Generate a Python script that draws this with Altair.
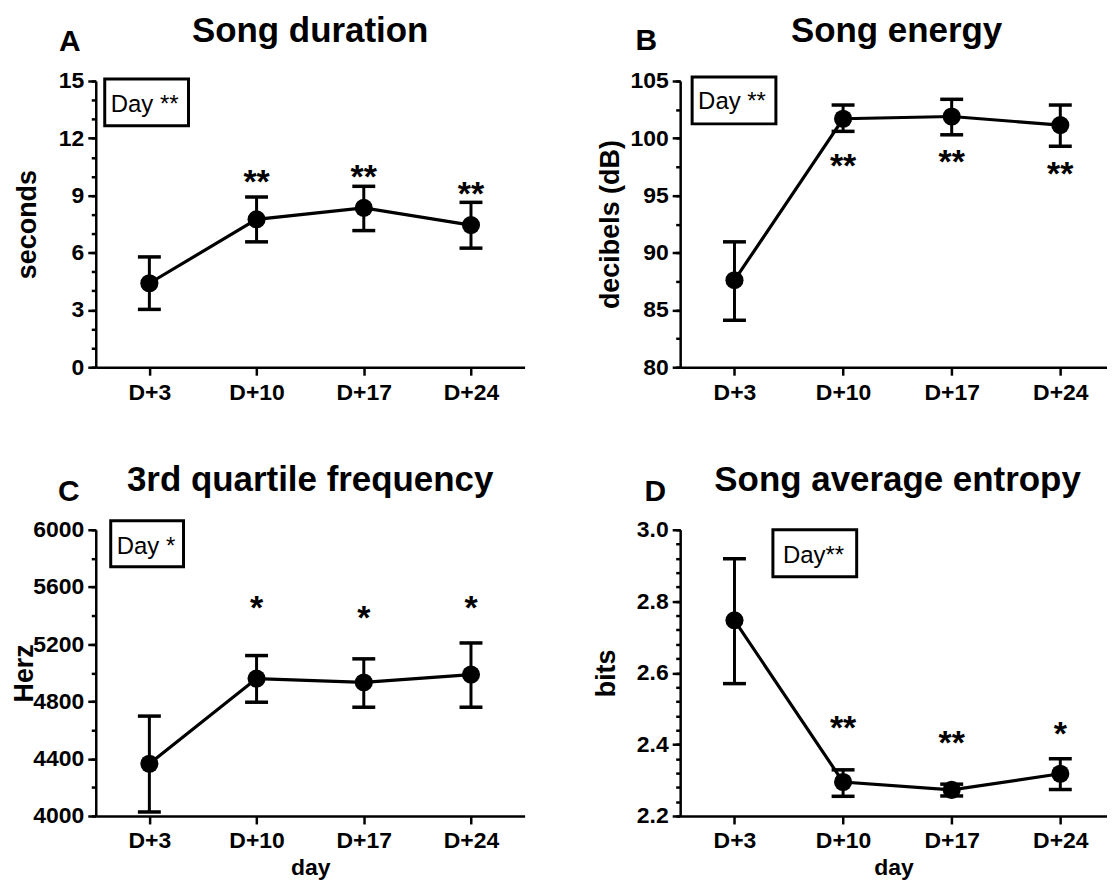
import altair as alt
import pandas as pd

FONT = "Liberation Sans"

days = ["D+3", "D+10", "D+17", "D+24"]

# Panel A: Song duration (seconds)
a_mean = [4.40, 7.75, 8.35, 7.45]
a_low = [3.03, 6.57, 7.16, 6.24]
a_high = [5.78, 8.92, 9.48, 8.64]
a_stars = ["", "**", "**", "**"]
a_star_y = [None, 10.1, 10.4, 9.5]

# Panel B: Song energy (dB)
b_mean = [87.6, 101.7, 101.9, 101.15]
b_low = [84.1, 100.6, 100.3, 99.3]
b_high = [90.95, 102.9, 103.4, 102.9]
b_stars = ["", "**", "**", "**"]
b_star_y = [None, 98.3, 98.6, 97.6]

# Panel C: 3rd quartile frequency (Herz)
c_mean = [4365, 4960, 4933, 4988]
c_low = [4028, 4795, 4760, 4760]
c_high = [4698, 5121, 5098, 5209]
c_stars = ["", "*", "*", "*"]
c_star_y = [None, 5512, 5442, 5512]

# Panel D: Song average entropy (bits)
d_mean = [2.747, 2.295, 2.273, 2.318]
d_low = [2.570, 2.255, 2.256, 2.274]
d_high = [2.919, 2.329, 2.289, 2.360]
d_stars = ["", "**", "**", "*"]
d_star_y = [None, 2.468, 2.425, 2.452]

# Axis ticks
a_major = [0, 3, 6, 9, 12, 15]
a_minor = list(range(0, 16))
b_major = [80, 85, 90, 95, 100, 105]
b_minor = [80 + 2.5 * i for i in range(11)]
c_major = [4000, 4400, 4800, 5200, 5600, 6000]
c_minor = list(range(4000, 6001, 200))
d_major = [2.2, 2.4, 2.6, 2.8, 3.0]
d_minor = [round(2.2 + 0.04 * i, 2) for i in range(21)]

H = 287


def make_panel(mean, low, high, stars, star_y, ydom, major, minor, yfmt,
               ytitle, ytitle_x, title, title_x, letter, letter_x, letter_y,
               box_text, box, text_x, text_y, width, xmax, xtitle):
    n = len(days)
    df = pd.DataFrame({"idx": list(range(n)), "mean": mean, "lo": low, "hi": high})
    sdf = pd.DataFrame({"idx": list(range(n)), "star": stars, "sy": star_y}).dropna()
    one = pd.DataFrame({"t": [0]})

    label_expr = "[" + ", ".join(f"'{d}'" for d in days) + "][datum.value]"
    xkw = dict(values=list(range(n)), labelExpr=label_expr, labelPadding=6, tickSize=8)
    if xtitle:
        xax = alt.Axis(title=xtitle, titleY=59, titleBaseline="alphabetic",
                       titleFontSize=23, **xkw)
    else:
        xax = alt.Axis(title=None, **xkw)
    xsc = alt.Scale(domain=[-0.5, xmax], nice=False, zero=False)
    X = alt.X("idx:Q", scale=xsc, axis=xax)

    ysc = alt.Scale(domain=ydom, nice=False, zero=False)
    ymaj = alt.Axis(values=major, format=yfmt, title=ytitle, titleX=ytitle_x,
                    titleY=H / 2, titleAngle=270, titleAlign="center",
                    titleBaseline="middle", tickSize=8, orient="left", labelPadding=4)
    ymin = alt.Axis(values=minor, labels=False, domain=False, tickSize=4.5,
                    title=None, orient="left")

    rules = alt.Chart(df).mark_rule(color="black", strokeWidth=3).encode(
        x=X, y=alt.Y("lo:Q", scale=ysc, axis=None), y2="hi:Q")
    cap_lo = alt.Chart(df).mark_tick(color="black", orient="horizontal", size=23,
                                     thickness=3.5, opacity=1).encode(
        x=X, y=alt.Y("lo:Q", scale=ysc, axis=None))
    cap_hi = alt.Chart(df).mark_tick(color="black", orient="horizontal", size=23,
                                     thickness=3.5, opacity=1).encode(
        x=X, y=alt.Y("hi:Q", scale=ysc, axis=None))
    line = alt.Chart(df).mark_line(color="black", strokeWidth=3.2).encode(
        x=X, y=alt.Y("mean:Q", scale=ysc, axis=ymaj))
    pts = alt.Chart(df).mark_circle(color="black", size=330, opacity=1).encode(
        x=X, y=alt.Y("mean:Q", scale=ysc, axis=ymin))
    st = alt.Chart(sdf).mark_text(font=FONT, fontSize=34, fontWeight="bold", dy=19,
                                  baseline="alphabetic", align="center",
                                  color="black").encode(
        x=X, y=alt.Y("sy:Q", scale=ysc, axis=None), text="star:N")

    boxl = alt.Chart(one).mark_rect(fill="white", stroke="black", strokeWidth=3).encode(
        x=alt.value(box[0]), x2=alt.value(box[1]), y=alt.value(box[2]), y2=alt.value(box[3]))
    boxt = alt.Chart(one).mark_text(text=box_text, font=FONT, fontSize=24, align="left",
                                    baseline="alphabetic", color="black").encode(
        x=alt.value(text_x), y=alt.value(text_y))
    ttl = alt.Chart(one).mark_text(text=title, font=FONT, fontSize=35, fontWeight="bold",
                                   align="center", baseline="alphabetic",
                                   color="black").encode(
        x=alt.value(title_x), y=alt.value(-39))
    let = alt.Chart(one).mark_text(text=letter, font=FONT, fontSize=30, fontWeight="bold",
                                   align="center", baseline="alphabetic",
                                   color="black").encode(
        x=alt.value(letter_x), y=alt.value(letter_y))

    return alt.layer(boxl, boxt, rules, cap_lo, cap_hi, line, pts, st, ttl, let).resolve_axis(
        y="independent").properties(width=width, height=H)


pa = make_panel(a_mean, a_low, a_high, a_stars, a_star_y, [0, 15], a_major, a_minor, "d",
                "seconds", -68, "Song duration", 215, "A", -26, -30,
                "Day **", (9, 93, -2, 45), 15, 31, 430, 3.5, None)
pb = make_panel(b_mean, b_low, b_high, b_stars, b_star_y, [80, 105], b_major, b_minor, "d",
                "decibels (dB)", -70, "Song energy", 217, "B", -34, -31,
                "Day **", (12, 96, -4, 43), 18, 28, 428, 3.43, None)
pc = make_panel(c_mean, c_low, c_high, c_stars, c_star_y, [4000, 6000], c_major, c_minor, "d",
                "Herz", -71, "3rd quartile frequency", 215, "C", -27, -29,
                "Day *", (15, 88, -9, 37), 21, 24, 430, 3.5, "day")
pd_ = make_panel(d_mean, d_low, d_high, d_stars, d_star_y, [2.2, 3.0], d_major, d_minor, ".1f",
                 "bits", -74, "Song average entropy", 218, "D", -25, -29,
                 "Day**", (93, 177, 0, 47), 103, 33, 428, 3.43, "day")

chart = alt.concat(
    pa, pb, pc, pd_, columns=2, spacing={"row": 163, "column": 156}, bounds="flush"
).properties(
    padding={"left": 3, "top": 5, "right": 0, "bottom": 0}
).configure_view(stroke=None).configure_axis(
    domainColor="black", domainWidth=2.5, tickColor="black", tickWidth=2.5,
    labelFont=FONT, labelFontSize=23, labelFontWeight="bold", labelColor="black",
    titleFont=FONT, titleFontSize=27, titleFontWeight="bold", titleColor="black",
    grid=False, labelFlush=False, labelOverlap=False
)

chart.save("out.html", embed_options={"renderer": "svg", "actions": False})
